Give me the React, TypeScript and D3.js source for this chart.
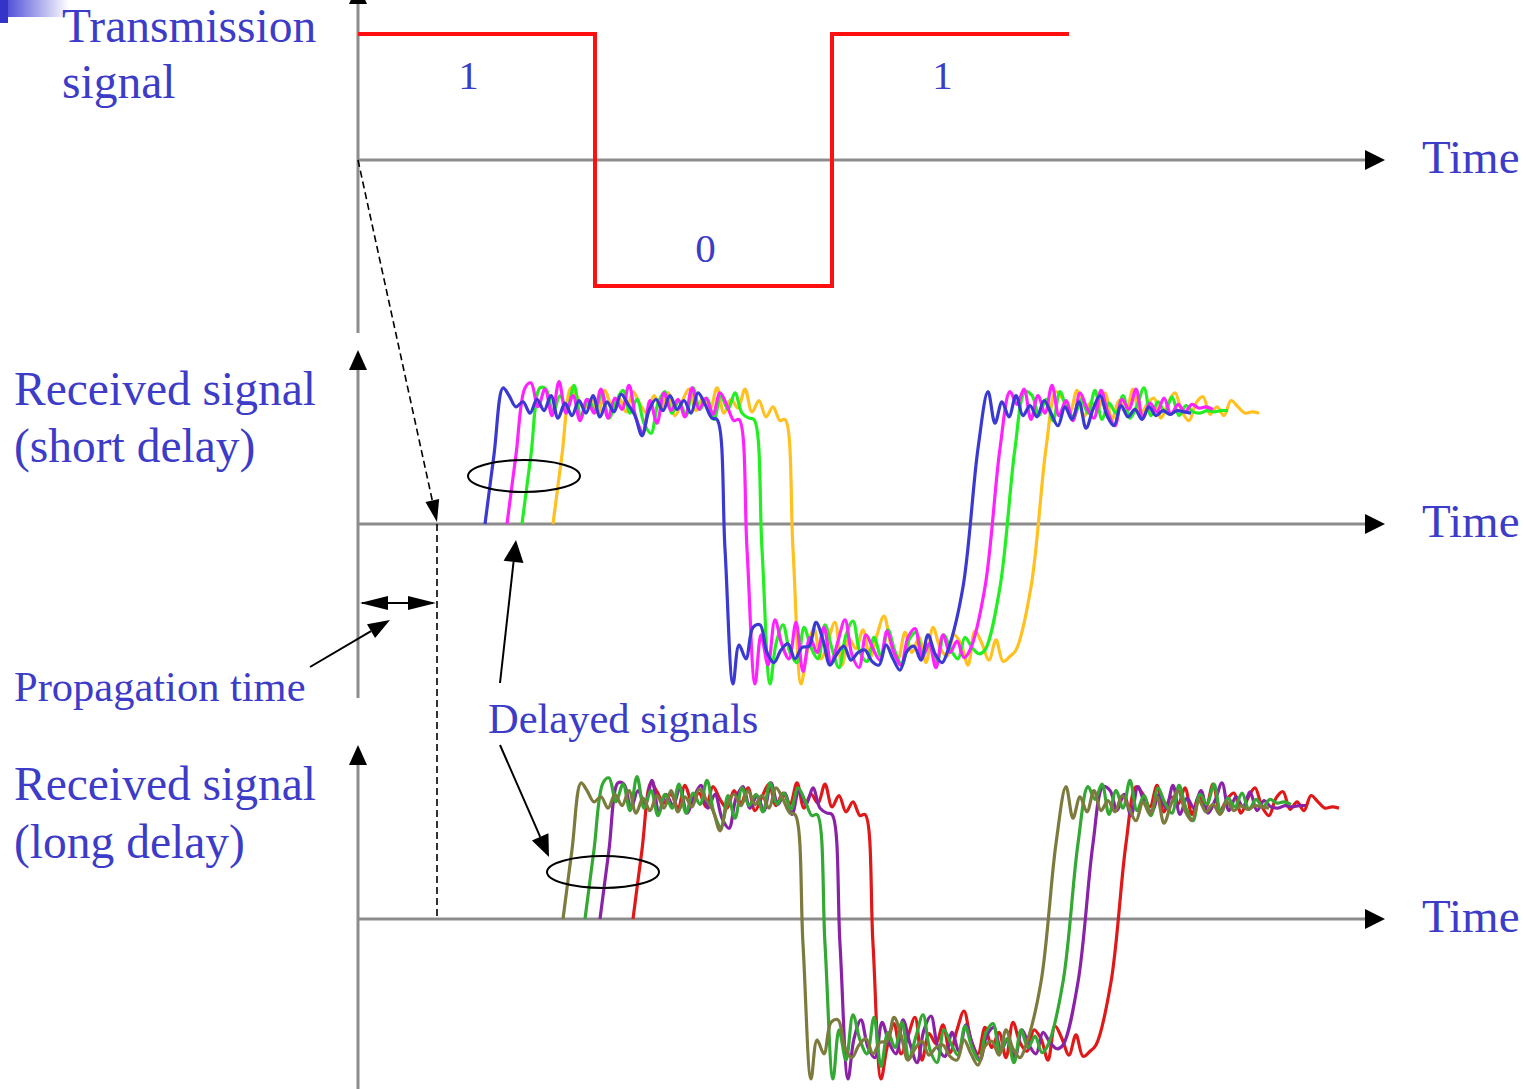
import React from "react";
import * as d3 from "d3";

// ---------- data ----------
const BIT_VALUES = [1, 0, 1];
const BIT_PERIOD = 237; // time units
const TIME_MAX = 1027;
const PROPAGATION_TIME = 79;

// path delays (time units from axis origin)
const SHORT_DELAYS = [127, 149, 164, 195];
const LONG_DELAYS = [205, 227, 242, 275];
const SHORT_COLORS = ["#3a3ad2", "#ff22ff", "#22ee22", "#ffc020"];
const LONG_COLORS = ["#7c7a3c", "#33a833", "#8a22a8", "#e01818"];

// transitions common to all paths: [tau, amplitude]
const RISE1 = [[0, 0], [9, 0.55], [18, 1.08]];
const FALL = [[232, 0.83], [240, -0.2], [248, -1.27]];
const RISE2 = [[463, -1.0], [478, -0.5], [493, 0.6], [503, 1.05]];

// noise on first high level, tau = 24 + 7*i
const HIGH1 = [
  [1.02, 0.93, 0.97, 0.88, 0.99, 0.9, 1.02, 0.84, 0.96, 0.86, 0.98, 0.88, 1.02, 0.85, 0.97, 0.89, 1.03, 0.95, 0.86, 0.7, 0.9, 0.99, 0.9, 1.02, 0.91, 0.98, 0.88, 1.04, 0.95, 0.84],
  [1.12, 0.93, 1.07, 0.86, 1.13, 0.88, 1.02, 0.82, 0.99, 0.88, 1.07, 0.84, 1.0, 0.91, 1.1, 0.84, 0.73, 0.98, 0.8, 1.04, 0.9, 0.99, 0.85, 1.08, 0.91, 1.0, 0.87, 1.04, 0.94, 0.82],
  [1.07, 0.88, 1.02, 0.91, 1.1, 0.85, 0.99, 0.9, 1.04, 0.84, 0.97, 1.06, 0.88, 0.99, 0.8, 0.72, 0.96, 1.05, 0.88, 0.98, 0.86, 1.08, 0.91, 1.0, 0.83, 1.02, 0.91, 1.04, 0.88, 0.84],
  [1.01, 0.92, 0.99, 0.88, 1.06, 0.93, 1.0, 0.89, 1.05, 0.95, 0.88, 1.02, 0.92, 1.04, 0.86, 0.97, 1.07, 0.9, 1.0, 0.91, 1.08, 0.88, 0.99, 0.92, 1.07, 0.89, 0.98, 0.85, 0.93, 0.82],
];
// noise on low level, tau = 254 + 7*i
const LOW = [
  [-0.96, -1.07, -0.82, -0.8, -1.02, -1.1, -1.0, -0.95, -1.07, -0.98, -0.97, -0.78, -0.92, -1.12, -1.03, -0.97, -1.08, -1.02, -1.0, -1.09, -1.12, -0.96, -1.07, -1.16, -1.01, -0.97, -1.08, -0.88, -1.03, -1.1],
  [-0.88, -1.12, -0.76, -0.96, -1.07, -0.78, -1.17, -0.9, -1.02, -0.82, -1.1, -0.93, -0.76, -1.04, -1.14, -0.88, -0.99, -1.08, -0.85, -1.02, -1.12, -0.9, -0.83, -1.06, -0.95, -1.14, -0.88, -1.02, -0.93, -1.06],
  [-0.95, -0.8, -1.02, -1.1, -0.82, -0.98, -1.07, -0.8, -0.99, -1.14, -0.88, -0.77, -1.02, -1.09, -0.9, -1.05, -0.84, -1.01, -1.12, -0.92, -0.86, -1.04, -0.95, -1.1, -0.88, -1.0, -1.07, -0.9, -0.98, -1.03],
  [-1.02, -0.83, -1.07, -0.93, -0.78, -1.12, -0.91, -0.99, -0.84, -1.06, -0.88, -0.73, -0.96, -1.07, -0.86, -1.02, -0.9, -1.1, -0.82, -0.98, -1.05, -0.88, -0.95, -1.12, -0.85, -0.95, -1.08, -0.92, -1.09, -1.05],
];
// noise on second high level, tau = 510 + 7*i
const HIGH2 = [
  [0.8, 0.97, 0.85, 1.02, 0.86, 0.94, 0.85, 0.98, 0.88, 0.78, 0.93, 0.83, 0.97, 0.76, 0.91, 1.02, 0.86, 0.78, 0.94, 0.85, 0.91, 0.83, 0.93, 0.86, 0.9, 0.87, 0.9, 0.89, 0.88],
  [0.95, 1.07, 0.83, 1.02, 0.88, 1.1, 0.86, 0.98, 0.82, 1.04, 0.92, 0.84, 1.06, 0.88, 0.78, 0.99, 0.91, 1.07, 0.84, 0.96, 0.89, 1.0, 0.87, 0.95, 0.89, 0.95, 0.92, 0.93, 0.91],
  [1.02, 0.86, 0.99, 0.82, 1.05, 0.91, 0.85, 0.99, 0.88, 1.06, 0.83, 0.96, 0.88, 1.02, 0.84, 0.94, 1.08, 0.86, 0.97, 0.89, 1.01, 0.86, 0.94, 0.89, 0.88, 0.9, 0.89, 0.9, 0.9],
  [0.99, 0.89, 1.06, 0.85, 0.97, 0.91, 1.04, 0.83, 0.98, 0.89, 1.07, 0.86, 0.95, 1.0, 0.84, 0.96, 1.04, 0.89, 0.82, 0.96, 1.01, 0.87, 0.93, 0.86, 0.98, 0.93, 0.88, 0.89, 0.88],
];
const HIGH1_START = 24;
const LOW_START = 254;
const HIGH2_START = 510;
const SAMPLE_STEP = 7;

// ---------- layout ----------
const W = 1526;
const H = 1089;
const AXIS_X = 358;
const PANELS = [160, 524, 919]; // y of time axis in each panel
const AMP = 126;
const FONT = "'Liberation Serif', 'Times New Roman', serif";
const TEXT_BLUE = "#3c3cc8";

const x = d3.scaleLinear().domain([0, TIME_MAX]).range([AXIS_X, AXIS_X + TIME_MAX]);
const yFor = (axisY: number) => d3.scaleLinear().domain([-1, 1]).range([axisY + AMP, axisY - AMP]);

function pathPoints(k: number): [number, number][] {
  const pts: [number, number][] = [];
  RISE1.forEach((p) => pts.push([p[0], p[1]]));
  HIGH1[k].forEach((v, i) => pts.push([HIGH1_START + SAMPLE_STEP * i, v]));
  FALL.forEach((p) => pts.push([p[0], p[1]]));
  LOW[k].forEach((v, i) => pts.push([LOW_START + SAMPLE_STEP * i, v]));
  RISE2.forEach((p) => pts.push([p[0], p[1]]));
  HIGH2[k].forEach((v, i) => pts.push([HIGH2_START + SAMPLE_STEP * i, v]));
  return pts;
}

function Arrow({ x1, y1, x2, y2, len = 20, half = 9, color = "#000", width = 2, dash }: any) {
  const a = Math.atan2(y2 - y1, x2 - x1);
  const bx = x2 - len * Math.cos(a);
  const by = y2 - len * Math.sin(a);
  const px = -Math.sin(a) * half;
  const py = Math.cos(a) * half;
  return (
    <g>
      <line x1={x1} y1={y1} x2={bx} y2={by} stroke={color} strokeWidth={width} strokeDasharray={dash} />
      <polygon points={`${x2},${y2} ${bx + px},${by + py} ${bx - px},${by - py}`} fill={color} />
    </g>
  );
}

export default function App() {
  const yTop = yFor(PANELS[0]);
  const txPts: [number, number][] = [];
  BIT_VALUES.forEach((b, i) => {
    const v = b ? 1 : -1;
    txPts.push([i * BIT_PERIOD, v], [(i + 1) * BIT_PERIOD, v]);
  });
  const txLine = d3.line<[number, number]>().x((d) => x(d[0])).y((d) => yTop(d[1]))(txPts);

  const makeSignals = (axisY: number, delays: number[], colors: string[]) => {
    const ys = yFor(axisY);
    const order = [3, 2, 1, 0];
    return order.map((k) => {
      const line = d3
        .line<[number, number]>()
        .x((d) => x(d[0] + delays[k]))
        .y((d) => ys(d[1]))
        .curve(d3.curveCatmullRom.alpha(0.5));
      return <path key={k} d={line(pathPoints(k)) || ""} fill="none" stroke={colors[k]} strokeWidth={3.2} strokeLinejoin="round" />;
    });
  };

  const axisTops = [-16, 350, 745];
  const axisBottoms = [333, 698, H];
  const propX = x(PROPAGATION_TIME);

  return (
    <svg width={W} height={H} style={{ position: "absolute", left: 0, top: 0 }} fontFamily={FONT}>
      <defs>
        <linearGradient id="bar" x1="0" x2="1" y1="0" y2="0">
          <stop offset="0" stopColor="#5050d8" />
          <stop offset="1" stopColor="#ffffff" />
        </linearGradient>
      </defs>
      <rect x={0} y={0} width={W} height={H} fill="#fff" />
      <rect x={7} y={0} width={62} height={17} fill="url(#bar)" />
      <rect x={0} y={0} width={8} height={23} fill="#3434c8" />

      {/* axes */}
      {PANELS.map((py, i) => (
        <g key={i}>
          <line x1={AXIS_X} y1={axisTops[i] + 18} x2={AXIS_X} y2={axisBottoms[i]} stroke="#8c8c8c" strokeWidth={3} />
          <polygon points={`${AXIS_X},${axisTops[i]} ${AXIS_X - 9},${axisTops[i] + 20} ${AXIS_X + 9},${axisTops[i] + 20}`} fill="#000" />
          <line x1={AXIS_X} y1={py} x2={1366} y2={py} stroke="#8c8c8c" strokeWidth={3} />
          <polygon points={`1385,${py} 1365,${py - 10} 1365,${py + 10}`} fill="#000" />
          <text x={1422} y={py + 13} fontSize={47} fill={TEXT_BLUE}>Time</text>
        </g>
      ))}

      {/* transmitted signal */}
      <path d={txLine || ""} fill="none" stroke="#ff1010" strokeWidth={4} />
      {BIT_VALUES.map((b, i) => (
        <text
          key={i}
          x={x((i + 0.5) * BIT_PERIOD) - 8}
          y={b ? 89 : 262}
          fontSize={41}
          fill={TEXT_BLUE}
          textAnchor="middle"
        >
          {b}
        </text>
      ))}

      {/* received signals */}
      {makeSignals(PANELS[1], SHORT_DELAYS, SHORT_COLORS)}
      {makeSignals(PANELS[2], LONG_DELAYS, LONG_COLORS)}

      {/* propagation dashed lines */}
      <Arrow x1={AXIS_X} y1={PANELS[0]} x2={propX} y2={PANELS[1] - 2} len={22} half={7} width={1.6} dash="7 4" />
      <line x1={propX} y1={PANELS[1]} x2={propX} y2={PANELS[2]} stroke="#000" strokeWidth={1.6} strokeDasharray="7 4" />
      <line x1={AXIS_X + 4} y1={603} x2={propX - 4} y2={603} stroke="#000" strokeWidth={2} />
      <polygon points={`${AXIS_X + 2},603 ${AXIS_X + 30},596 ${AXIS_X + 30},610`} fill="#000" />
      <polygon points={`${propX - 1},603 ${propX - 29},596 ${propX - 29},610`} fill="#000" />
      <Arrow x1={310} y1={667} x2={390} y2={620} len={22} half={8} width={2} />

      {/* delayed-signal pointers */}
      <Arrow x1={500} y1={683} x2={516} y2={540} len={22} half={10} width={2} />
      <Arrow x1={500} y1={745} x2={549} y2={857} len={22} half={9} width={2} />
      <ellipse cx={524} cy={476} rx={56} ry={16} fill="none" stroke="#000" strokeWidth={2} />
      <ellipse cx={603} cy={872} rx={56} ry={16} fill="none" stroke="#000" strokeWidth={2} />

      {/* labels */}
      <g fill={TEXT_BLUE}>
        <text x={62} y={42} fontSize={47.5}>Transmission</text>
        <text x={62} y={98} fontSize={47.5}>signal</text>
        <text x={14} y={405} fontSize={47.5}>Received signal</text>
        <text x={14} y={462} fontSize={47.5}>(short delay)</text>
        <text x={14} y={800} fontSize={47.5}>Received signal</text>
        <text x={14} y={858} fontSize={47.5}>(long delay)</text>
        <text x={14} y={701} fontSize={42.5}>Propagation time</text>
        <text x={488} y={733} fontSize={42.5}>Delayed signals</text>
      </g>
    </svg>
  );
}
